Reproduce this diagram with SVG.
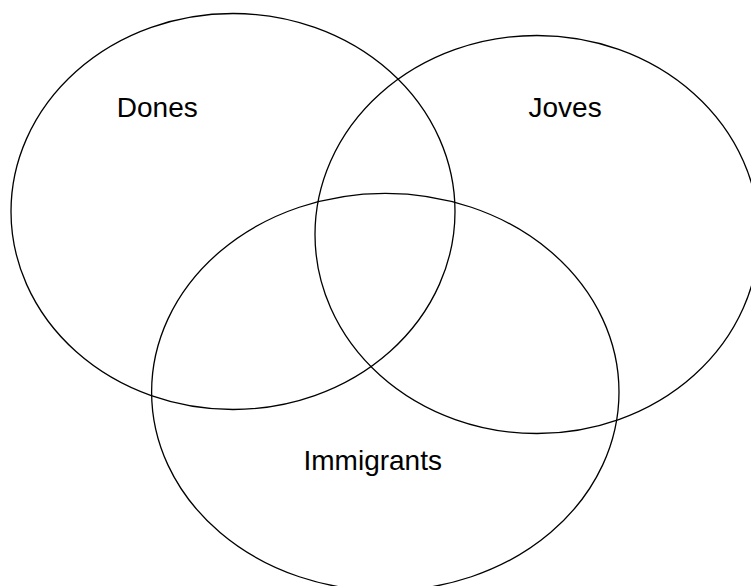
<svg xmlns="http://www.w3.org/2000/svg" width="751" height="586" viewBox="0 0 751 586">
<style>
.set{fill:none;stroke:#000;stroke-width:1.3}
.lbl{font-family:"Liberation Sans",Arial,sans-serif;font-size:28px;fill:#000}
</style>
<rect width="751" height="586" fill="#fff"/>
<g id="dones">
<ellipse class="set" cx="233" cy="211.5" rx="222" ry="198"/>
<text class="lbl" x="116.8" y="116.5">Dones</text>
</g>
<g id="joves">
<ellipse class="set" cx="537" cy="234.5" rx="222" ry="199"/>
<text class="lbl" x="528.5" y="116.5">Joves</text>
</g>
<g id="immigrants">
<ellipse class="set" cx="385.3" cy="392" rx="233.7" ry="198.7"/>
<text class="lbl" x="303.5" y="469.5">Immigrants</text>
</g>
<g id="connectors"/>
</svg>
